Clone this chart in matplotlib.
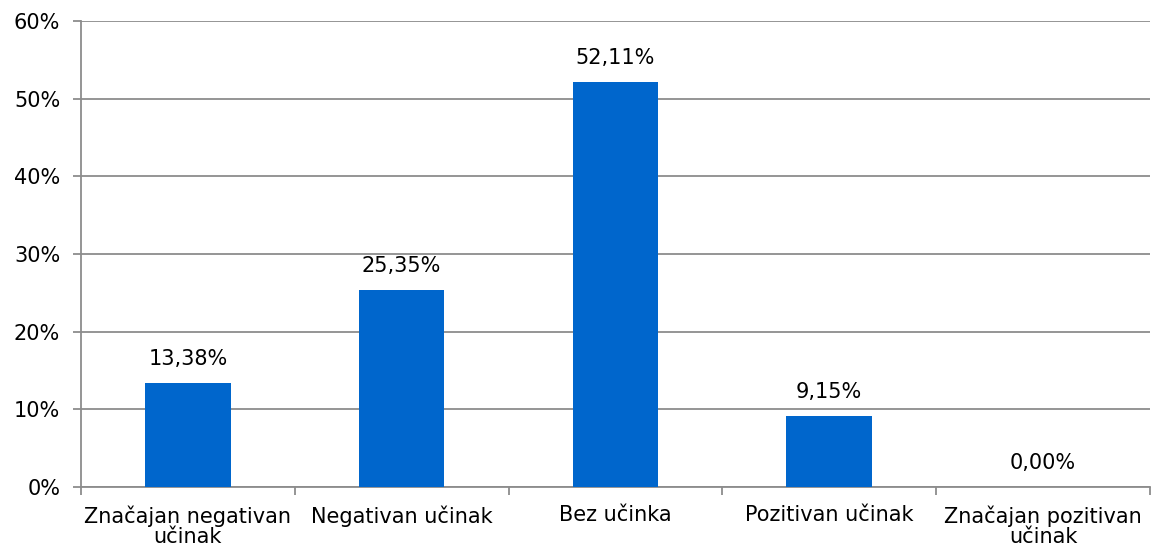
import numpy as np
import matplotlib.pyplot as plt
from matplotlib.ticker import FuncFormatter

categories = ["Značajan negativan\nučinak", "Negativan učinak", "Bez učinka",
              "Pozitivan učinak", "Značajan pozitivan\nučinak"]
values = [13.38, 25.35, 52.11, 9.15, 0.00]

grid_col = "#8c8c8c"
bar_col = "#0066cc"
fs = 15

fig = plt.figure(figsize=(11.51, 5.49), dpi=100)
ax = fig.add_axes([0.0704, 0.1129, 0.9286, 0.8488])

x = np.arange(len(categories))
ax.bar(x, values, width=0.4, color=bar_col, zorder=3)

# oznake vrijednosti iznad stupaca
for xi, v in zip(x, values):
    ax.annotate(f"{v:.2f}%".replace(".", ","), (xi, v), xytext=(0, 10),
                textcoords="offset points", ha="center", va="bottom", fontsize=fs)

ax.set_xlim(-0.5, len(categories) - 0.5)
ax.set_ylim(0, 60)
ax.set_yticks(np.arange(0, 61, 10))
ax.yaxis.set_major_formatter(FuncFormatter(lambda v, p: f"{v:.0f}%"))
ax.grid(axis="y", color=grid_col, linewidth=1.3, zorder=0)

ax.set_xticks(x)
ax.set_xticklabels(categories, fontsize=fs, linespacing=1.0)
ax.set_xticks(np.arange(-0.5, len(categories)), minor=True)
ax.tick_params(axis="x", which="major", length=0, pad=13)
ax.tick_params(axis="x", which="minor", length=6, width=1.3, color=grid_col)
ax.tick_params(axis="y", length=6, width=1.3, color=grid_col, labelsize=fs, pad=9)

for s in ["top", "right"]:
    ax.spines[s].set_visible(False)
for s in ["left", "bottom"]:
    ax.spines[s].set_color(grid_col)
    ax.spines[s].set_linewidth(1.3)

fig.savefig("out.png", dpi=100)
